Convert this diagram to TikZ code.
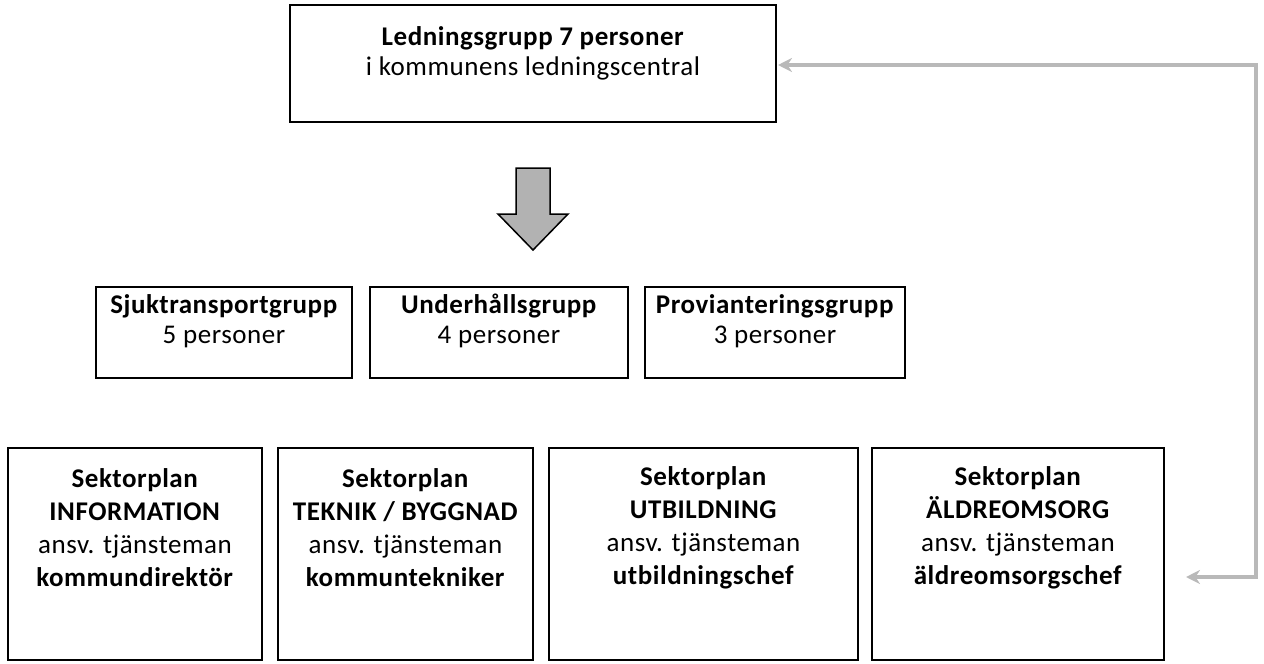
\documentclass[tikz,border=0pt]{standalone}
\usepackage{fontspec}
\setmainfont{Carlito}[LetterSpace=2]
\usetikzlibrary{arrows.meta}
\tikzset{
  box/.style={draw=black, line width=2pt, rectangle, inner sep=0pt},
  txt/.style={align=center, font=\fontsize{27}{30}\selectfont, inner sep=0pt},
  txtb/.style={align=center, font=\fontsize{27}{33}\selectfont, inner sep=0pt},
  conn/.style={draw=gray!55, line width=4pt, {Stealth[length=14pt,width=14pt]}-{Stealth[length=14pt,width=14pt]}},
  bigarrow/.style={fill=gray!60, draw=black, line width=1.5pt, line join=miter}
}
\begin{document}
\begin{tikzpicture}[x=1pt,y=-1pt]
\useasboundingbox (0,0) rectangle (1264,664);
% top box
\node[box, minimum width=486pt, minimum height=117pt] (top) at (533,63.5) {};
\node[txt] (toptxt) at (533,53) {\textbf{Ledningsgrupp 7 personer}\\i kommunens ledningscentral};
% big arrow
\draw[bigarrow] (516,168) -- (550,168) -- (550,214) -- (568,214) -- (533,250) -- (498,214) -- (516,214) -- cycle;
% middle boxes
\node[box, minimum width=256pt, minimum height=91pt] (m1) at (224,332.5) {};
\node[box, minimum width=258pt, minimum height=91pt] (m2) at (499,332.5) {};
\node[box, minimum width=260pt, minimum height=91pt] (m3) at (775,332.5) {};
\node[txt] (m1t) at (224,321) {\textbf{Sjuktransportgrupp}\\5 personer};
\node[txt] (m2t) at (499,321) {\textbf{Underhållsgrupp}\\4 personer};
\node[txt] (m3t) at (775,321) {\textbf{Provianteringsgrupp}\\3 personer};
% bottom boxes
\node[box, minimum width=254pt, minimum height=212pt] (b1) at (135,554) {};
\node[box, minimum width=255pt, minimum height=212pt] (b2) at (405.5,554) {};
\node[box, minimum width=309pt, minimum height=212pt] (b3) at (703.5,554) {};
\node[box, minimum width=292pt, minimum height=212pt] (b4) at (1018,554) {};
\node[txtb] (b1t) at (135,528) {\textbf{Sektorplan}\\\textbf{INFORMATION}\\ansv. tjänsteman\\\textbf{kommundirektör}};
\node[txtb] (b2t) at (405.5,528) {\textbf{Sektorplan}\\\textbf{TEKNIK / BYGGNAD}\\ansv. tjänsteman\\\textbf{kommuntekniker}};
\node[txtb] (b3t) at (703.5,528) {\textbf{Sektorplan}\\\textbf{UTBILDNING}\\ansv. tjänsteman\\\textbf{utbildningschef}};
\node[txtb] (b4t) at (1018,528) {\textbf{Sektorplan}\\\textbf{ÄLDREOMSORG}\\ansv. tjänsteman\\\textbf{äldreomsorgschef}};
% connector
\coordinate (c1) at (778,65);
\coordinate (c2) at (1186,577);
\coordinate (cr) at (1256,65);
\draw[conn] (c1) -- (cr) |- (c2);
\end{tikzpicture}
\end{document}
